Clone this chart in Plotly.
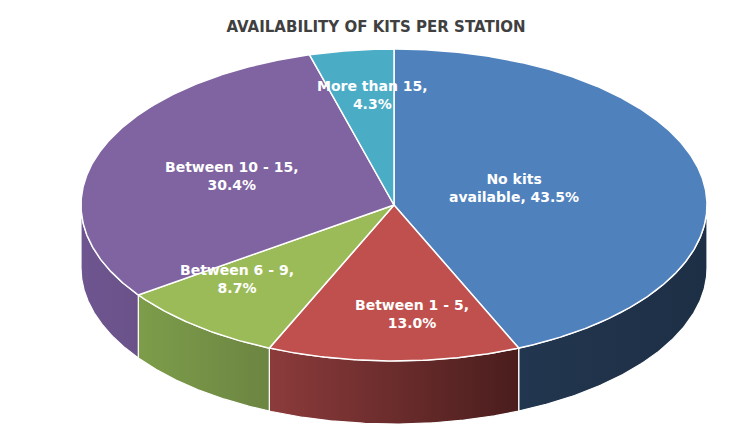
import numpy as np
import plotly.graph_objects as go

# ---- data ----
categories = ["No kits available", "Between 1 - 5", "Between 6 - 9", "Between 10 - 15", "More than 15"]
counts = [10, 3, 2, 7, 1]
label_lines = [["No kits", "available, "], ["Between 1 - 5,", ""], ["Between 6 - 9,", ""],
               ["Between 10 - 15,", ""], ["More than 15,", ""]]
title = "AVAILABILITY OF KITS PER STATION"

# ---- style ----
top_colors = ["#4F81BD", "#C0504D", "#9BBB59", "#8064A2", "#4BACC6"]
side_grad = [("#22364F", "#1D2F45"), ("#8C3B3B", "#4A1D1D"), ("#7D9D4A", "#6C8542"),
             ("#6E5590", "#6A5289"), ("#3F93AA", "#357F93")]
CX, CY, RX, RY, DEPTH = 394, 205, 313, 156, 63
label_frac = [0.39, 0.70, 0.70, 0.55, 0.70]
label_dx = [0, 18, -19, 0, 8]
label_dy = [-5, 0, -11, 0, -2]
OFF = 8  # page body margin

W, H = 751, 441
total = sum(counts)
fracs = [c / total for c in counts]
bounds = np.concatenate([[0], np.cumsum(fracs)]) * 360.0


def pt(theta_deg, dy=0.0):
    t = np.radians(theta_deg)
    return CX + RX * np.sin(t), CY - RY * np.cos(t) + dy


fig = go.Figure()

# side walls (visible front half: 90..270 deg)
for i in range(len(counts)):
    s0 = max(bounds[i], 90.0)
    s1 = min(bounds[i + 1], 270.0)
    if s1 <= s0:
        continue
    th = np.linspace(s0, s1, 120)
    xt, yt = pt(th)
    xb, yb = pt(th[::-1], DEPTH)
    xs = np.concatenate([xt, xb, xt[:1]])
    ys = np.concatenate([yt, yb, yt[:1]])
    c0, c1 = side_grad[i]
    fig.add_trace(go.Scatter(
        x=xs, y=ys, mode="lines", fill="toself",
        fillgradient=dict(type="horizontal", colorscale=[[0, c0], [1, c1]]),
        line=dict(color="white", width=1.2), hoverinfo="skip", showlegend=False))

# top faces
for i in range(len(counts)):
    th = np.linspace(bounds[i], bounds[i + 1], max(20, int(counts[i] * 40)))
    xa, ya = pt(th)
    xs = np.concatenate([[CX], xa, [CX]])
    ys = np.concatenate([[CY], ya, [CY]])
    fig.add_trace(go.Scatter(
        x=xs, y=ys, mode="lines", fill="toself", fillcolor=top_colors[i],
        line=dict(color="white", width=1.5), hoverinfo="skip", showlegend=False))

# labels
for i in range(len(counts)):
    mid = (bounds[i] + bounds[i + 1]) / 2
    t = np.radians(mid)
    x = CX + RX * np.sin(t) * label_frac[i] + label_dx[i]
    y = CY - RY * np.cos(t) * label_frac[i] + label_dy[i]
    pct = f"{fracs[i] * 100:.1f}%"
    l1, l2 = label_lines[i]
    text = f"{l1}<br>{l2}{pct}"
    fig.add_annotation(x=x, y=y, text=text, showarrow=False, xanchor="center", yanchor="middle",
                       font=dict(family="DejaVu Sans", size=14, color="white", weight="bold"),
                       align="center")

fig.update_layout(
    width=W, height=H, margin=dict(l=0, r=0, t=0, b=0),
    paper_bgcolor="white", plot_bgcolor="white",
    xaxis=dict(range=[OFF, W + OFF], visible=False, fixedrange=True),
    yaxis=dict(range=[H + OFF, OFF], visible=False, fixedrange=True),
    title=dict(text=f"<b>{title}</b>", x=(376 - OFF) / W, xanchor="center",
               y=1 - (27 - OFF) / H, yanchor="middle",
               font=dict(family="DejaVu Sans", size=15, color="#404040")),
    showlegend=False,
)

fig.write_html("out.html")
